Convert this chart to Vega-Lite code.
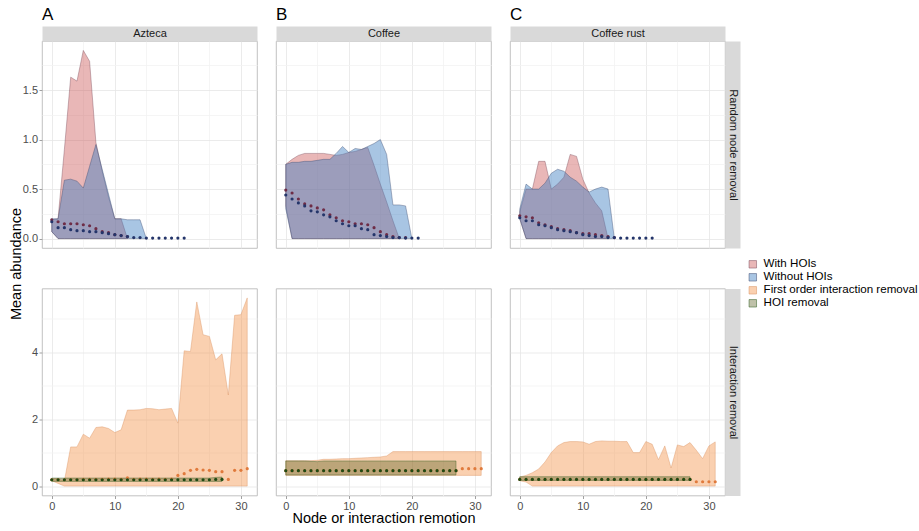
{
"$schema": "https://vega.github.io/schema/vega-lite/v6.json",
"background": "#ffffff",
"padding": {"left": 7, "top": 5, "right": 0, "bottom": 0},
"config": {"font": "Liberation Sans", "view": {"stroke": "#b3b3b3", "strokeWidth": 0.8}},
"datasets": {
"az1": [
{"s":"With HOIs","x":0,"m":0.19,"lo":0.07,"hi":0.19},
{"s":"With HOIs","x":1,"m":0.17,"lo":0,"hi":0.2},
{"s":"With HOIs","x":2,"m":0.15,"lo":0,"hi":0.9},
{"s":"With HOIs","x":3,"m":0.15,"lo":0,"hi":1.63},
{"s":"With HOIs","x":4,"m":0.15,"lo":0,"hi":1.59},
{"s":"With HOIs","x":5,"m":0.14,"lo":0,"hi":1.9},
{"s":"With HOIs","x":6,"m":0.13,"lo":0,"hi":1.79},
{"s":"With HOIs","x":7,"m":0.1,"lo":0,"hi":0.97},
{"s":"With HOIs","x":8,"m":0.07,"lo":0,"hi":0.68},
{"s":"With HOIs","x":9,"m":0.06,"lo":0,"hi":0.42},
{"s":"With HOIs","x":10,"m":0.04,"lo":0,"hi":0.2},
{"s":"With HOIs","x":11,"m":0.03,"lo":0,"hi":0.2},
{"s":"With HOIs","x":12,"m":0.02,"lo":0,"hi":0},
{"s":"Without HOIs","x":0,"m":0.17,"lo":0.07,"hi":0.2},
{"s":"Without HOIs","x":1,"m":0.11,"lo":0,"hi":0.2},
{"s":"Without HOIs","x":2,"m":0.11,"lo":0,"hi":0.59},
{"s":"Without HOIs","x":3,"m":0.09,"lo":0,"hi":0.6},
{"s":"Without HOIs","x":4,"m":0.08,"lo":0,"hi":0.58},
{"s":"Without HOIs","x":5,"m":0.08,"lo":0,"hi":0.51},
{"s":"Without HOIs","x":6,"m":0.07,"lo":0,"hi":0.73},
{"s":"Without HOIs","x":7,"m":0.07,"lo":0,"hi":0.95},
{"s":"Without HOIs","x":8,"m":0.06,"lo":0,"hi":0.7},
{"s":"Without HOIs","x":9,"m":0.05,"lo":0,"hi":0.45},
{"s":"Without HOIs","x":10,"m":0.04,"lo":0,"hi":0.2},
{"s":"Without HOIs","x":11,"m":0.03,"lo":0,"hi":0.2},
{"s":"Without HOIs","x":12,"m":0.02,"lo":0,"hi":0.19},
{"s":"Without HOIs","x":13,"m":0.01,"lo":0,"hi":0.19},
{"s":"Without HOIs","x":14,"m":0.01,"lo":0,"hi":0.19},
{"s":"Without HOIs","x":15,"m":0.005,"lo":0,"hi":0},
{"s":"Without HOIs","x":16,"m":0.005},
{"s":"Without HOIs","x":17,"m":0.005},
{"s":"Without HOIs","x":18,"m":0.005},
{"s":"Without HOIs","x":19,"m":0.005},
{"s":"Without HOIs","x":20,"m":0.005},
{"s":"Without HOIs","x":21,"m":0.005}
],
"co1": [
{"s":"With HOIs","x":0,"m":0.49,"lo":0.33,"hi":0.75},
{"s":"With HOIs","x":1,"m":0.46,"lo":0,"hi":0.8},
{"s":"With HOIs","x":2,"m":0.4,"lo":0,"hi":0.84},
{"s":"With HOIs","x":3,"m":0.35,"lo":0,"hi":0.86},
{"s":"With HOIs","x":4,"m":0.33,"lo":0,"hi":0.86},
{"s":"With HOIs","x":5,"m":0.31,"lo":0,"hi":0.86},
{"s":"With HOIs","x":6,"m":0.29,"lo":0,"hi":0.86},
{"s":"With HOIs","x":7,"m":0.24,"lo":0,"hi":0.85},
{"s":"With HOIs","x":8,"m":0.21,"lo":0,"hi":0.84},
{"s":"With HOIs","x":9,"m":0.18,"lo":0,"hi":0.85},
{"s":"With HOIs","x":10,"m":0.17,"lo":0,"hi":0.87},
{"s":"With HOIs","x":11,"m":0.15,"lo":0,"hi":0.88},
{"s":"With HOIs","x":12,"m":0.15,"lo":0,"hi":0.9},
{"s":"With HOIs","x":13,"m":0.14,"lo":0,"hi":0.92},
{"s":"With HOIs","x":14,"m":0.11,"lo":0,"hi":0.74},
{"s":"With HOIs","x":15,"m":0.07,"lo":0,"hi":0.55},
{"s":"With HOIs","x":16,"m":0.04,"lo":0,"hi":0.37},
{"s":"With HOIs","x":17,"m":0.02,"lo":0,"hi":0.18},
{"s":"With HOIs","x":18,"m":0.01,"lo":0,"hi":0},
{"s":"With HOIs","x":19,"m":0.01},
{"s":"Without HOIs","x":0,"m":0.44,"lo":0.3,"hi":0.75},
{"s":"Without HOIs","x":1,"m":0.4,"lo":0,"hi":0.77},
{"s":"Without HOIs","x":2,"m":0.36,"lo":0,"hi":0.77},
{"s":"Without HOIs","x":3,"m":0.33,"lo":0,"hi":0.78},
{"s":"Without HOIs","x":4,"m":0.28,"lo":0,"hi":0.78},
{"s":"Without HOIs","x":5,"m":0.27,"lo":0,"hi":0.79},
{"s":"Without HOIs","x":6,"m":0.24,"lo":0,"hi":0.8},
{"s":"Without HOIs","x":7,"m":0.22,"lo":0,"hi":0.8},
{"s":"Without HOIs","x":8,"m":0.18,"lo":0,"hi":0.86},
{"s":"Without HOIs","x":9,"m":0.15,"lo":0,"hi":0.93},
{"s":"Without HOIs","x":10,"m":0.13,"lo":0,"hi":0.87},
{"s":"Without HOIs","x":11,"m":0.13,"lo":0,"hi":0.91},
{"s":"Without HOIs","x":12,"m":0.1,"lo":0,"hi":0.9},
{"s":"Without HOIs","x":13,"m":0.09,"lo":0,"hi":0.93},
{"s":"Without HOIs","x":14,"m":0.04,"lo":0,"hi":0.96},
{"s":"Without HOIs","x":15,"m":0.03,"lo":0,"hi":1.0},
{"s":"Without HOIs","x":16,"m":0.02,"lo":0,"hi":0.85},
{"s":"Without HOIs","x":17,"m":0.01,"lo":0,"hi":0.34},
{"s":"Without HOIs","x":18,"m":0.01,"lo":0,"hi":0.34},
{"s":"Without HOIs","x":19,"m":0.005,"lo":0,"hi":0.33},
{"s":"Without HOIs","x":20,"m":0.005,"lo":0,"hi":0},
{"s":"Without HOIs","x":21,"m":0.005}
],
"cr1": [
{"s":"With HOIs","x":0,"m":0.23,"lo":0.2,"hi":0.27},
{"s":"With HOIs","x":1,"m":0.22,"lo":0,"hi":0.5},
{"s":"With HOIs","x":2,"m":0.21,"lo":0,"hi":0.5},
{"s":"With HOIs","x":3,"m":0.16,"lo":0,"hi":0.78},
{"s":"With HOIs","x":4,"m":0.14,"lo":0,"hi":0.78},
{"s":"With HOIs","x":5,"m":0.12,"lo":0,"hi":0.5},
{"s":"With HOIs","x":6,"m":0.1,"lo":0,"hi":0.55},
{"s":"With HOIs","x":7,"m":0.09,"lo":0,"hi":0.62},
{"s":"With HOIs","x":8,"m":0.08,"lo":0,"hi":0.85},
{"s":"With HOIs","x":9,"m":0.06,"lo":0,"hi":0.83},
{"s":"With HOIs","x":10,"m":0.05,"lo":0,"hi":0.6},
{"s":"With HOIs","x":11,"m":0.05,"lo":0,"hi":0.46},
{"s":"With HOIs","x":12,"m":0.04,"lo":0,"hi":0.36},
{"s":"With HOIs","x":13,"m":0.03,"lo":0,"hi":0.28},
{"s":"With HOIs","x":14,"m":0.02,"lo":0,"hi":0},
{"s":"With HOIs","x":15,"m":0.01},
{"s":"Without HOIs","x":0,"m":0.21,"lo":0.2,"hi":0.3},
{"s":"Without HOIs","x":1,"m":0.18,"lo":0,"hi":0.55},
{"s":"Without HOIs","x":2,"m":0.18,"lo":0,"hi":0.5},
{"s":"Without HOIs","x":3,"m":0.14,"lo":0,"hi":0.5},
{"s":"Without HOIs","x":4,"m":0.13,"lo":0,"hi":0.56},
{"s":"Without HOIs","x":5,"m":0.11,"lo":0,"hi":0.66},
{"s":"Without HOIs","x":6,"m":0.09,"lo":0,"hi":0.7},
{"s":"Without HOIs","x":7,"m":0.08,"lo":0,"hi":0.68},
{"s":"Without HOIs","x":8,"m":0.07,"lo":0,"hi":0.62},
{"s":"Without HOIs","x":9,"m":0.06,"lo":0,"hi":0.58},
{"s":"Without HOIs","x":10,"m":0.04,"lo":0,"hi":0.52},
{"s":"Without HOIs","x":11,"m":0.03,"lo":0,"hi":0.47},
{"s":"Without HOIs","x":12,"m":0.02,"lo":0,"hi":0.5},
{"s":"Without HOIs","x":13,"m":0.02,"lo":0,"hi":0.52},
{"s":"Without HOIs","x":14,"m":0.01,"lo":0,"hi":0.5},
{"s":"Without HOIs","x":15,"m":0.01,"lo":0,"hi":0},
{"s":"Without HOIs","x":16,"m":0.005},
{"s":"Without HOIs","x":17,"m":0.005},
{"s":"Without HOIs","x":18,"m":0.005},
{"s":"Without HOIs","x":19,"m":0.005},
{"s":"Without HOIs","x":20,"m":0.005},
{"s":"Without HOIs","x":21,"m":0.005}
],
"az2": [
{"s":"First order interaction removal","x":0,"m":0.19,"lo":0.16,"hi":0.22},
{"s":"First order interaction removal","x":1,"m":0.19,"lo":0.08,"hi":0.22},
{"s":"First order interaction removal","x":2,"m":0.19,"lo":0,"hi":0.15},
{"s":"First order interaction removal","x":3,"m":0.19,"lo":0,"hi":1.17},
{"s":"First order interaction removal","x":4,"m":0.19,"lo":0,"hi":1.17},
{"s":"First order interaction removal","x":5,"m":0.2,"lo":0,"hi":1.55},
{"s":"First order interaction removal","x":6,"m":0.2,"lo":0,"hi":1.43},
{"s":"First order interaction removal","x":7,"m":0.2,"lo":0,"hi":1.75},
{"s":"First order interaction removal","x":8,"m":0.2,"lo":0,"hi":1.77},
{"s":"First order interaction removal","x":9,"m":0.21,"lo":0,"hi":1.72},
{"s":"First order interaction removal","x":10,"m":0.21,"lo":0,"hi":1.6},
{"s":"First order interaction removal","x":11,"m":0.2,"lo":0,"hi":1.68},
{"s":"First order interaction removal","x":12,"m":0.25,"lo":0,"hi":2.27},
{"s":"First order interaction removal","x":13,"m":0.2,"lo":0,"hi":2.27},
{"s":"First order interaction removal","x":14,"m":0.21,"lo":0,"hi":2.28},
{"s":"First order interaction removal","x":15,"m":0.21,"lo":0,"hi":2.32},
{"s":"First order interaction removal","x":16,"m":0.2,"lo":0,"hi":2.31},
{"s":"First order interaction removal","x":17,"m":0.21,"lo":0,"hi":2.28},
{"s":"First order interaction removal","x":18,"m":0.2,"lo":0,"hi":2.3},
{"s":"First order interaction removal","x":19,"m":0.21,"lo":0,"hi":2.32},
{"s":"First order interaction removal","x":20,"m":0.32,"lo":0,"hi":1.88},
{"s":"First order interaction removal","x":21,"m":0.37,"lo":0,"hi":4.04},
{"s":"First order interaction removal","x":22,"m":0.47,"lo":0,"hi":4.02},
{"s":"First order interaction removal","x":23,"m":0.5,"lo":0,"hi":5.5},
{"s":"First order interaction removal","x":24,"m":0.48,"lo":0,"hi":4.52},
{"s":"First order interaction removal","x":25,"m":0.47,"lo":0,"hi":4.47},
{"s":"First order interaction removal","x":26,"m":0.43,"lo":0,"hi":3.77},
{"s":"First order interaction removal","x":27,"m":0.43,"lo":0,"hi":3.95},
{"s":"First order interaction removal","x":28,"m":0.2,"lo":0,"hi":2.72},
{"s":"First order interaction removal","x":29,"m":0.47,"lo":0,"hi":5.1},
{"s":"First order interaction removal","x":30,"m":0.47,"lo":0,"hi":5.12},
{"s":"First order interaction removal","x":31,"m":0.52,"lo":0,"hi":5.62},
{"s":"HOI removal","x":0,"m":0.19,"lo":0.14,"hi":0.24},
{"s":"HOI removal","x":1,"m":0.19,"lo":0.14,"hi":0.24},
{"s":"HOI removal","x":2,"m":0.19,"lo":0.14,"hi":0.24},
{"s":"HOI removal","x":3,"m":0.19,"lo":0.14,"hi":0.24},
{"s":"HOI removal","x":4,"m":0.19,"lo":0.14,"hi":0.24},
{"s":"HOI removal","x":5,"m":0.19,"lo":0.14,"hi":0.24},
{"s":"HOI removal","x":6,"m":0.19,"lo":0.14,"hi":0.24},
{"s":"HOI removal","x":7,"m":0.19,"lo":0.14,"hi":0.24},
{"s":"HOI removal","x":8,"m":0.19,"lo":0.14,"hi":0.24},
{"s":"HOI removal","x":9,"m":0.19,"lo":0.14,"hi":0.24},
{"s":"HOI removal","x":10,"m":0.19,"lo":0.14,"hi":0.24},
{"s":"HOI removal","x":11,"m":0.19,"lo":0.14,"hi":0.24},
{"s":"HOI removal","x":12,"m":0.19,"lo":0.14,"hi":0.24},
{"s":"HOI removal","x":13,"m":0.19,"lo":0.14,"hi":0.24},
{"s":"HOI removal","x":14,"m":0.19,"lo":0.14,"hi":0.24},
{"s":"HOI removal","x":15,"m":0.19,"lo":0.14,"hi":0.24},
{"s":"HOI removal","x":16,"m":0.19,"lo":0.14,"hi":0.24},
{"s":"HOI removal","x":17,"m":0.19,"lo":0.14,"hi":0.24},
{"s":"HOI removal","x":18,"m":0.19,"lo":0.14,"hi":0.24},
{"s":"HOI removal","x":19,"m":0.19,"lo":0.14,"hi":0.24},
{"s":"HOI removal","x":20,"m":0.19,"lo":0.14,"hi":0.24},
{"s":"HOI removal","x":21,"m":0.19,"lo":0.14,"hi":0.24},
{"s":"HOI removal","x":22,"m":0.19,"lo":0.14,"hi":0.24},
{"s":"HOI removal","x":23,"m":0.19,"lo":0.14,"hi":0.24},
{"s":"HOI removal","x":24,"m":0.19,"lo":0.14,"hi":0.24},
{"s":"HOI removal","x":25,"m":0.19,"lo":0.14,"hi":0.24},
{"s":"HOI removal","x":26,"m":0.2,"lo":0.14,"hi":0.26},
{"s":"HOI removal","x":27,"m":0.2,"lo":0.14,"hi":0.27}
],
"co2": [
{"s":"First order interaction removal","x":0,"m":0.46,"lo":0.32,"hi":0.76},
{"s":"First order interaction removal","x":1,"m":0.46,"lo":0.32,"hi":0.76},
{"s":"First order interaction removal","x":2,"m":0.46,"lo":0.32,"hi":0.76},
{"s":"First order interaction removal","x":3,"m":0.46,"lo":0.32,"hi":0.76},
{"s":"First order interaction removal","x":4,"m":0.46,"lo":0.32,"hi":0.76},
{"s":"First order interaction removal","x":5,"m":0.46,"lo":0.32,"hi":0.77},
{"s":"First order interaction removal","x":6,"m":0.46,"lo":0.32,"hi":0.8},
{"s":"First order interaction removal","x":7,"m":0.46,"lo":0.32,"hi":0.8},
{"s":"First order interaction removal","x":8,"m":0.46,"lo":0.32,"hi":0.81},
{"s":"First order interaction removal","x":9,"m":0.46,"lo":0.32,"hi":0.82},
{"s":"First order interaction removal","x":10,"m":0.46,"lo":0.32,"hi":0.82},
{"s":"First order interaction removal","x":11,"m":0.46,"lo":0.32,"hi":0.83},
{"s":"First order interaction removal","x":12,"m":0.46,"lo":0.32,"hi":0.84},
{"s":"First order interaction removal","x":13,"m":0.46,"lo":0.32,"hi":0.85},
{"s":"First order interaction removal","x":14,"m":0.46,"lo":0.32,"hi":0.86},
{"s":"First order interaction removal","x":15,"m":0.46,"lo":0.32,"hi":0.87},
{"s":"First order interaction removal","x":16,"m":0.46,"lo":0.32,"hi":0.9},
{"s":"First order interaction removal","x":17,"m":0.46,"lo":0.32,"hi":1.03},
{"s":"First order interaction removal","x":18,"m":0.46,"lo":0.32,"hi":1.03},
{"s":"First order interaction removal","x":19,"m":0.46,"lo":0.32,"hi":1.03},
{"s":"First order interaction removal","x":20,"m":0.46,"lo":0.32,"hi":1.03},
{"s":"First order interaction removal","x":21,"m":0.46,"lo":0.32,"hi":1.03},
{"s":"First order interaction removal","x":22,"m":0.46,"lo":0.32,"hi":1.03},
{"s":"First order interaction removal","x":23,"m":0.46,"lo":0.32,"hi":1.03},
{"s":"First order interaction removal","x":24,"m":0.46,"lo":0.32,"hi":1.03},
{"s":"First order interaction removal","x":25,"m":0.46,"lo":0.32,"hi":1.03},
{"s":"First order interaction removal","x":26,"m":0.46,"lo":0.32,"hi":1.03},
{"s":"First order interaction removal","x":27,"m":0.46,"lo":0.32,"hi":1.03},
{"s":"First order interaction removal","x":28,"m":0.52,"lo":0.32,"hi":1.03},
{"s":"First order interaction removal","x":29,"m":0.52,"lo":0.32,"hi":1.03},
{"s":"First order interaction removal","x":30,"m":0.52,"lo":0.32,"hi":1.03},
{"s":"First order interaction removal","x":31,"m":0.52,"lo":0.32,"hi":1.03},
{"s":"HOI removal","x":0,"m":0.46,"lo":0.33,"hi":0.75},
{"s":"HOI removal","x":1,"m":0.46,"lo":0.33,"hi":0.75},
{"s":"HOI removal","x":2,"m":0.46,"lo":0.33,"hi":0.75},
{"s":"HOI removal","x":3,"m":0.46,"lo":0.33,"hi":0.75},
{"s":"HOI removal","x":4,"m":0.46,"lo":0.33,"hi":0.74},
{"s":"HOI removal","x":5,"m":0.46,"lo":0.33,"hi":0.73},
{"s":"HOI removal","x":6,"m":0.46,"lo":0.33,"hi":0.75},
{"s":"HOI removal","x":7,"m":0.46,"lo":0.33,"hi":0.75},
{"s":"HOI removal","x":8,"m":0.46,"lo":0.33,"hi":0.75},
{"s":"HOI removal","x":9,"m":0.46,"lo":0.33,"hi":0.75},
{"s":"HOI removal","x":10,"m":0.46,"lo":0.33,"hi":0.75},
{"s":"HOI removal","x":11,"m":0.46,"lo":0.33,"hi":0.75},
{"s":"HOI removal","x":12,"m":0.46,"lo":0.33,"hi":0.75},
{"s":"HOI removal","x":13,"m":0.46,"lo":0.33,"hi":0.75},
{"s":"HOI removal","x":14,"m":0.46,"lo":0.33,"hi":0.75},
{"s":"HOI removal","x":15,"m":0.46,"lo":0.33,"hi":0.75},
{"s":"HOI removal","x":16,"m":0.46,"lo":0.33,"hi":0.75},
{"s":"HOI removal","x":17,"m":0.46,"lo":0.33,"hi":0.75},
{"s":"HOI removal","x":18,"m":0.46,"lo":0.33,"hi":0.75},
{"s":"HOI removal","x":19,"m":0.46,"lo":0.33,"hi":0.75},
{"s":"HOI removal","x":20,"m":0.46,"lo":0.33,"hi":0.75},
{"s":"HOI removal","x":21,"m":0.46,"lo":0.33,"hi":0.75},
{"s":"HOI removal","x":22,"m":0.46,"lo":0.33,"hi":0.75},
{"s":"HOI removal","x":23,"m":0.46,"lo":0.33,"hi":0.75},
{"s":"HOI removal","x":24,"m":0.46,"lo":0.33,"hi":0.75},
{"s":"HOI removal","x":25,"m":0.46,"lo":0.33,"hi":0.75},
{"s":"HOI removal","x":26,"m":0.46,"lo":0.33,"hi":0.75},
{"s":"HOI removal","x":27,"m":0.46,"lo":0.33,"hi":0.75}
],
"cr2": [
{"s":"First order interaction removal","x":0,"m":0.2,"lo":0.16,"hi":0.27},
{"s":"First order interaction removal","x":1,"m":0.2,"lo":0.12,"hi":0.32},
{"s":"First order interaction removal","x":2,"m":0.2,"lo":0,"hi":0.4},
{"s":"First order interaction removal","x":3,"m":0.2,"lo":0,"hi":0.51},
{"s":"First order interaction removal","x":4,"m":0.2,"lo":0,"hi":0.72},
{"s":"First order interaction removal","x":5,"m":0.2,"lo":0,"hi":1.0},
{"s":"First order interaction removal","x":6,"m":0.2,"lo":0,"hi":1.2},
{"s":"First order interaction removal","x":7,"m":0.2,"lo":0,"hi":1.3},
{"s":"First order interaction removal","x":8,"m":0.2,"lo":0,"hi":1.33},
{"s":"First order interaction removal","x":9,"m":0.2,"lo":0,"hi":1.33},
{"s":"First order interaction removal","x":10,"m":0.2,"lo":0,"hi":1.32},
{"s":"First order interaction removal","x":11,"m":0.2,"lo":0,"hi":1.25},
{"s":"First order interaction removal","x":12,"m":0.2,"lo":0,"hi":1.33},
{"s":"First order interaction removal","x":13,"m":0.2,"lo":0,"hi":1.35},
{"s":"First order interaction removal","x":14,"m":0.2,"lo":0,"hi":1.34},
{"s":"First order interaction removal","x":15,"m":0.2,"lo":0,"hi":1.34},
{"s":"First order interaction removal","x":16,"m":0.2,"lo":0,"hi":1.33},
{"s":"First order interaction removal","x":17,"m":0.2,"lo":0,"hi":1.33},
{"s":"First order interaction removal","x":18,"m":0.2,"lo":0,"hi":1.0},
{"s":"First order interaction removal","x":19,"m":0.2,"lo":0,"hi":1.0},
{"s":"First order interaction removal","x":20,"m":0.2,"lo":0,"hi":1.33},
{"s":"First order interaction removal","x":21,"m":0.2,"lo":0,"hi":1.25},
{"s":"First order interaction removal","x":22,"m":0.2,"lo":0,"hi":0.79},
{"s":"First order interaction removal","x":23,"m":0.2,"lo":0,"hi":1.2},
{"s":"First order interaction removal","x":24,"m":0.2,"lo":0,"hi":0.54},
{"s":"First order interaction removal","x":25,"m":0.2,"lo":0,"hi":1.23},
{"s":"First order interaction removal","x":26,"m":0.2,"lo":0,"hi":1.18},
{"s":"First order interaction removal","x":27,"m":0.2,"lo":0,"hi":1.3},
{"s":"First order interaction removal","x":28,"m":0.13,"lo":0,"hi":1.07},
{"s":"First order interaction removal","x":29,"m":0.13,"lo":0,"hi":0.82},
{"s":"First order interaction removal","x":30,"m":0.13,"lo":0,"hi":1.2},
{"s":"First order interaction removal","x":31,"m":0.13,"lo":0,"hi":1.32},
{"s":"HOI removal","x":0,"m":0.2,"lo":0.17,"hi":0.28},
{"s":"HOI removal","x":1,"m":0.2,"lo":0.17,"hi":0.28},
{"s":"HOI removal","x":2,"m":0.2,"lo":0.17,"hi":0.28},
{"s":"HOI removal","x":3,"m":0.2,"lo":0.17,"hi":0.28},
{"s":"HOI removal","x":4,"m":0.2,"lo":0.17,"hi":0.28},
{"s":"HOI removal","x":5,"m":0.2,"lo":0.17,"hi":0.28},
{"s":"HOI removal","x":6,"m":0.2,"lo":0.17,"hi":0.28},
{"s":"HOI removal","x":7,"m":0.2,"lo":0.17,"hi":0.28},
{"s":"HOI removal","x":8,"m":0.2,"lo":0.17,"hi":0.28},
{"s":"HOI removal","x":9,"m":0.2,"lo":0.17,"hi":0.28},
{"s":"HOI removal","x":10,"m":0.2,"lo":0.17,"hi":0.28},
{"s":"HOI removal","x":11,"m":0.2,"lo":0.17,"hi":0.28},
{"s":"HOI removal","x":12,"m":0.2,"lo":0.17,"hi":0.28},
{"s":"HOI removal","x":13,"m":0.2,"lo":0.17,"hi":0.28},
{"s":"HOI removal","x":14,"m":0.2,"lo":0.17,"hi":0.28},
{"s":"HOI removal","x":15,"m":0.2,"lo":0.17,"hi":0.28},
{"s":"HOI removal","x":16,"m":0.2,"lo":0.17,"hi":0.28},
{"s":"HOI removal","x":17,"m":0.2,"lo":0.17,"hi":0.28},
{"s":"HOI removal","x":18,"m":0.2,"lo":0.17,"hi":0.28},
{"s":"HOI removal","x":19,"m":0.2,"lo":0.17,"hi":0.28},
{"s":"HOI removal","x":20,"m":0.2,"lo":0.17,"hi":0.28},
{"s":"HOI removal","x":21,"m":0.2,"lo":0.17,"hi":0.28},
{"s":"HOI removal","x":22,"m":0.2,"lo":0.17,"hi":0.28},
{"s":"HOI removal","x":23,"m":0.2,"lo":0.17,"hi":0.28},
{"s":"HOI removal","x":24,"m":0.2,"lo":0.17,"hi":0.28},
{"s":"HOI removal","x":25,"m":0.2,"lo":0.17,"hi":0.28},
{"s":"HOI removal","x":26,"m":0.2,"lo":0.17,"hi":0.28},
{"s":"HOI removal","x":27,"m":0.2,"lo":0.17,"hi":0.28}
]
},
"columns": 3,
"spacing": {"row": 40.5, "column": 19},
"bounds": "flush",
"concat": [
{
"width": 215, "height": 207,
"title": {"text": "A", "anchor": "start", "frame": "group", "fontSize": 17, "fontWeight": "normal", "color": "#000000", "offset": 4},
"data": {"name": "az1"},
"layer": [
{"transform": [{"filter": "isValid(datum.hi)"}],
"mark": {"type": "area", "strokeWidth": 0.5, "strokeOpacity": 0.8},
"encoding": {
"x": {"field": "x", "type": "quantitative", "scale": {"domain": [-1.55, 32.55], "nice": false, "zero": false},
"axis": {"orient": "bottom", "values": [0,5,10,15,20,25,30], "labels": false, "ticks": false, "domain": false, "grid": true, "gridColor": {"condition": {"test": "datum.value % 10 !== 0", "value": "#f3f3f3"}, "value": "#e6e6e6"}, "gridWidth": 0.8, "title": null}},
"y": {"field": "lo", "type": "quantitative", "scale": {"domain": [-0.095, 1.995], "nice": false, "zero": false},
"axis": {"orient": "left", "values": [0,0.25,0.5,0.75,1,1.25,1.5,1.75], "labelExpr": "datum.value * 4 % 2 === 0 ? format(datum.value, '.1f') : ''", "labelFontSize": 11, "labelColor": "#4d4d4d", "labelPadding": 1.5, "labelFlush": false, "ticks": true, "tickSize": 3, "tickColor": "#a0a0a0", "tickOpacity": {"condition": {"test": "datum.value * 4 % 2 !== 0", "value": 0}, "value": 1}, "domain": false, "grid": true, "gridColor": {"condition": {"test": "datum.value * 4 % 2 !== 0", "value": "#f3f3f3"}, "value": "#e6e6e6"}, "gridWidth": 0.8, "title": null}},
"y2": {"field": "hi"},
"color": {"field": "s", "type": "nominal", "scale": {"domain": ["With HOIs","Without HOIs","First order interaction removal","HOI removal"], "range": ["rgba(201,74,74,0.4)","rgba(61,127,192,0.45)","rgba(242,142,67,0.42)","rgba(95,100,40,0.4)"]},
"legend": {"title": null, "orient": "none", "legendX": 705, "legendY": 217.5, "symbolType": "square", "symbolSize": 56, "symbolStrokeColor": "#9a9a9a", "symbolStrokeWidth": 0.5, "labelFontSize": 11.6, "labelColor": "#000000", "labelLimit": 400, "rowPadding": 0, "labelOffset": 5, "labelExpr": "datum.label === 'With HOIs' || datum.label === 'Without HOIs' ? '\u00a0' + datum.label : datum.label"}},
"stroke": {"field": "s", "type": "nominal", "scale": {"domain": ["With HOIs","Without HOIs","First order interaction removal","HOI removal"], "range": ["#7a4a5a","#3d4a70","#d9905f","#2d5a1d"]}, "legend": null}
}},
{"mark": {"type": "circle", "size": 10, "opacity": 1},
"encoding": {
"x": {"field": "x", "type": "quantitative", "scale": {"domain": [-1.55, 32.55], "nice": false, "zero": false},
"axis": {"orient": "top", "domain": true, "domainColor": "#d9d9d9", "domainWidth": 15, "offset": 7.5, "labels": false, "ticks": false, "grid": false, "title": "Azteca", "titleFontSize": 11, "titleFontWeight": "normal", "titleColor": "#1a1a1a", "titleX": 107.5, "titleY": 0, "titleBaseline": "middle", "titleAlign": "center"}},
"y": {"field": "m", "type": "quantitative", "scale": {"domain": [-0.095, 1.995], "nice": false, "zero": false}, "axis": null},
"fill": {"field": "s", "type": "nominal", "scale": {"domain": ["With HOIs","Without HOIs","First order interaction removal","HOI removal"], "range": ["#6e2c46","#24356a","#e07a3c","#1f4a14"]}, "legend": null}
}}
],
"resolve": {"axis": {"x": "independent", "y": "independent"}}
},
{
"width": 215, "height": 207,
"title": {"text": "B", "anchor": "start", "frame": "group", "fontSize": 17, "fontWeight": "normal", "color": "#000000", "offset": 4},
"data": {"name": "co1"},
"layer": [
{"transform": [{"filter": "isValid(datum.hi)"}],
"mark": {"type": "area", "strokeWidth": 0.5, "strokeOpacity": 0.8},
"encoding": {
"x": {"field": "x", "type": "quantitative", "scale": {"domain": [-1.55, 32.55], "nice": false, "zero": false},
"axis": {"orient": "bottom", "values": [0,5,10,15,20,25,30], "labels": false, "ticks": false, "domain": false, "grid": true, "gridColor": {"condition": {"test": "datum.value % 10 !== 0", "value": "#f3f3f3"}, "value": "#e6e6e6"}, "gridWidth": 0.8, "title": null}},
"y": {"field": "lo", "type": "quantitative", "scale": {"domain": [-0.095, 1.995], "nice": false, "zero": false},
"axis": {"orient": "left", "values": [0,0.25,0.5,0.75,1,1.25,1.5,1.75], "labels": false, "ticks": false, "domain": false, "grid": true, "gridColor": {"condition": {"test": "datum.value * 4 % 2 !== 0", "value": "#f3f3f3"}, "value": "#e6e6e6"}, "gridWidth": 0.8, "title": null}},
"y2": {"field": "hi"},
"color": {"field": "s", "type": "nominal", "scale": {"domain": ["With HOIs","Without HOIs","First order interaction removal","HOI removal"], "range": ["rgba(201,74,74,0.4)","rgba(61,127,192,0.45)","rgba(242,142,67,0.42)","rgba(95,100,40,0.4)"]},
"legend": {"title": null, "orient": "none", "legendX": 705, "legendY": 217.5, "symbolType": "square", "symbolSize": 56, "symbolStrokeColor": "#9a9a9a", "symbolStrokeWidth": 0.5, "labelFontSize": 11.6, "labelColor": "#000000", "labelLimit": 400, "rowPadding": 0, "labelOffset": 5, "labelExpr": "datum.label === 'With HOIs' || datum.label === 'Without HOIs' ? '\u00a0' + datum.label : datum.label"}},
"stroke": {"field": "s", "type": "nominal", "scale": {"domain": ["With HOIs","Without HOIs","First order interaction removal","HOI removal"], "range": ["#7a4a5a","#3d4a70","#d9905f","#2d5a1d"]}, "legend": null}
}},
{"mark": {"type": "circle", "size": 10, "opacity": 1},
"encoding": {
"x": {"field": "x", "type": "quantitative", "scale": {"domain": [-1.55, 32.55], "nice": false, "zero": false},
"axis": {"orient": "top", "domain": true, "domainColor": "#d9d9d9", "domainWidth": 15, "offset": 7.5, "labels": false, "ticks": false, "grid": false, "title": "Coffee", "titleFontSize": 11, "titleFontWeight": "normal", "titleColor": "#1a1a1a", "titleX": 107.5, "titleY": 0, "titleBaseline": "middle", "titleAlign": "center"}},
"y": {"field": "m", "type": "quantitative", "scale": {"domain": [-0.095, 1.995], "nice": false, "zero": false}, "axis": null},
"fill": {"field": "s", "type": "nominal", "scale": {"domain": ["With HOIs","Without HOIs","First order interaction removal","HOI removal"], "range": ["#6e2c46","#24356a","#e07a3c","#1f4a14"]}, "legend": null}
}}
],
"resolve": {"axis": {"x": "independent", "y": "independent"}}
},
{
"width": 215, "height": 207,
"title": {"text": "C", "anchor": "start", "frame": "group", "fontSize": 17, "fontWeight": "normal", "color": "#000000", "offset": 4},
"data": {"name": "cr1"},
"layer": [
{"transform": [{"filter": "isValid(datum.hi)"}],
"mark": {"type": "area", "strokeWidth": 0.5, "strokeOpacity": 0.8},
"encoding": {
"x": {"field": "x", "type": "quantitative", "scale": {"domain": [-1.55, 32.55], "nice": false, "zero": false},
"axis": {"orient": "bottom", "values": [0,5,10,15,20,25,30], "labels": false, "ticks": false, "domain": false, "grid": true, "gridColor": {"condition": {"test": "datum.value % 10 !== 0", "value": "#f3f3f3"}, "value": "#e6e6e6"}, "gridWidth": 0.8, "title": null}},
"y": {"field": "lo", "type": "quantitative", "scale": {"domain": [-0.095, 1.995], "nice": false, "zero": false},
"axis": {"orient": "left", "values": [0,0.25,0.5,0.75,1,1.25,1.5,1.75], "labels": false, "ticks": false, "domain": false, "grid": true, "gridColor": {"condition": {"test": "datum.value * 4 % 2 !== 0", "value": "#f3f3f3"}, "value": "#e6e6e6"}, "gridWidth": 0.8, "title": null}},
"y2": {"field": "hi"},
"color": {"field": "s", "type": "nominal", "scale": {"domain": ["With HOIs","Without HOIs","First order interaction removal","HOI removal"], "range": ["rgba(201,74,74,0.4)","rgba(61,127,192,0.45)","rgba(242,142,67,0.42)","rgba(95,100,40,0.4)"]},
"legend": {"title": null, "orient": "none", "legendX": 705, "legendY": 217.5, "symbolType": "square", "symbolSize": 56, "symbolStrokeColor": "#9a9a9a", "symbolStrokeWidth": 0.5, "labelFontSize": 11.6, "labelColor": "#000000", "labelLimit": 400, "rowPadding": 0, "labelOffset": 5, "labelExpr": "datum.label === 'With HOIs' || datum.label === 'Without HOIs' ? '\u00a0' + datum.label : datum.label"}},
"stroke": {"field": "s", "type": "nominal", "scale": {"domain": ["With HOIs","Without HOIs","First order interaction removal","HOI removal"], "range": ["#7a4a5a","#3d4a70","#d9905f","#2d5a1d"]}, "legend": null}
}},
{"mark": {"type": "circle", "size": 10, "opacity": 1},
"encoding": {
"x": {"field": "x", "type": "quantitative", "scale": {"domain": [-1.55, 32.55], "nice": false, "zero": false},
"axis": {"orient": "top", "domain": true, "domainColor": "#d9d9d9", "domainWidth": 15, "offset": 7.5, "labels": false, "ticks": false, "grid": false, "title": "Coffee rust", "titleFontSize": 11, "titleFontWeight": "normal", "titleColor": "#1a1a1a", "titleX": 107.5, "titleY": 0, "titleBaseline": "middle", "titleAlign": "center"}},
"y": {"field": "m", "type": "quantitative", "scale": {"domain": [-0.095, 1.995], "nice": false, "zero": false},
"axis": {"orient": "right", "domain": true, "domainColor": "#d9d9d9", "domainWidth": 15, "offset": 7.5, "labels": false, "ticks": false, "grid": false, "title": "Random node removal", "titleFontSize": 11, "titleFontWeight": "normal", "titleColor": "#1a1a1a", "titleAngle": 90, "titleX": 0, "titleY": 103.5, "titleBaseline": "middle", "titleAlign": "center"}},
"fill": {"field": "s", "type": "nominal", "scale": {"domain": ["With HOIs","Without HOIs","First order interaction removal","HOI removal"], "range": ["#6e2c46","#24356a","#e07a3c","#1f4a14"]}, "legend": null}
}}
],
"resolve": {"axis": {"x": "independent", "y": "independent"}}
},
{
"width": 215, "height": 207,
"data": {"name": "az2"},
"layer": [
{"transform": [{"filter": "isValid(datum.hi)"}],
"mark": {"type": "area", "strokeWidth": 0.5, "strokeOpacity": 0.8},
"encoding": {
"x": {"field": "x", "type": "quantitative", "scale": {"domain": [-1.55, 32.55], "nice": false, "zero": false},
"axis": {"orient": "bottom", "values": [0,5,10,15,20,25,30], "labelExpr": "datum.value % 10 === 0 ? datum.label : ''", "labelFontSize": 11, "labelColor": "#4d4d4d", "labelPadding": 1.5, "labelFlush": false, "ticks": true, "tickSize": 3, "tickColor": "#a0a0a0", "tickOpacity": {"condition": {"test": "datum.value % 10 !== 0", "value": 0}, "value": 1}, "domain": false, "grid": true, "gridColor": {"condition": {"test": "datum.value % 10 !== 0", "value": "#f3f3f3"}, "value": "#e6e6e6"}, "gridWidth": 0.8, "title": null}},
"y": {"field": "lo", "type": "quantitative", "scale": {"domain": [-0.281, 5.901], "nice": false, "zero": false},
"axis": {"orient": "left", "values": [0,1,2,3,4,5], "labelExpr": "datum.value % 2 === 0 ? datum.label : ''", "labelFontSize": 11, "labelColor": "#4d4d4d", "labelPadding": 1.5, "labelFlush": false, "ticks": true, "tickSize": 3, "tickColor": "#a0a0a0", "tickOpacity": {"condition": {"test": "datum.value % 2 !== 0", "value": 0}, "value": 1}, "domain": false, "grid": true, "gridColor": {"condition": {"test": "datum.value % 2 !== 0", "value": "#f3f3f3"}, "value": "#e6e6e6"}, "gridWidth": 0.8, "title": "Mean abundance", "titleFontSize": 14.5, "titleFontWeight": "normal", "titleColor": "#000000", "titleAngle": -90, "titleX": -22, "titleY": -25, "titleBaseline": "alphabetic", "titleAlign": "center"}},
"y2": {"field": "hi"},
"color": {"field": "s", "type": "nominal", "scale": {"domain": ["With HOIs","Without HOIs","First order interaction removal","HOI removal"], "range": ["rgba(201,74,74,0.4)","rgba(61,127,192,0.45)","rgba(242,142,67,0.42)","rgba(95,100,40,0.4)"]},
"legend": {"title": null, "orient": "none", "legendX": 705, "legendY": 217.5, "symbolType": "square", "symbolSize": 56, "symbolStrokeColor": "#9a9a9a", "symbolStrokeWidth": 0.5, "labelFontSize": 11.6, "labelColor": "#000000", "labelLimit": 400, "rowPadding": 0, "labelOffset": 5, "labelExpr": "datum.label === 'With HOIs' || datum.label === 'Without HOIs' ? '\u00a0' + datum.label : datum.label"}},
"stroke": {"field": "s", "type": "nominal", "scale": {"domain": ["With HOIs","Without HOIs","First order interaction removal","HOI removal"], "range": ["#7a4a5a","#3d4a70","#d9905f","#2d5a1d"]}, "legend": null}
}},
{"mark": {"type": "circle", "size": 10, "opacity": 1},
"encoding": {
"x": {"field": "x", "type": "quantitative", "scale": {"domain": [-1.55, 32.55], "nice": false, "zero": false}, "axis": null},
"y": {"field": "m", "type": "quantitative", "scale": {"domain": [-0.281, 5.901], "nice": false, "zero": false}, "axis": null},
"fill": {"field": "s", "type": "nominal", "scale": {"domain": ["With HOIs","Without HOIs","First order interaction removal","HOI removal"], "range": ["#6e2c46","#24356a","#e07a3c","#1f4a14"]}, "legend": null}
}}
],
"resolve": {"axis": {"x": "independent", "y": "independent"}}
},
{
"width": 215, "height": 207,
"data": {"name": "co2"},
"layer": [
{"transform": [{"filter": "isValid(datum.hi)"}],
"mark": {"type": "area", "strokeWidth": 0.5, "strokeOpacity": 0.8},
"encoding": {
"x": {"field": "x", "type": "quantitative", "scale": {"domain": [-1.55, 32.55], "nice": false, "zero": false},
"axis": {"orient": "bottom", "values": [0,5,10,15,20,25,30], "labelExpr": "datum.value % 10 === 0 ? datum.label : ''", "labelFontSize": 11, "labelColor": "#4d4d4d", "labelPadding": 1.5, "labelFlush": false, "ticks": true, "tickSize": 3, "tickColor": "#a0a0a0", "tickOpacity": {"condition": {"test": "datum.value % 10 !== 0", "value": 0}, "value": 1}, "domain": false, "grid": true, "gridColor": {"condition": {"test": "datum.value % 10 !== 0", "value": "#f3f3f3"}, "value": "#e6e6e6"}, "gridWidth": 0.8, "title": "Node or interaction remotion", "titleFontSize": 14.5, "titleFontWeight": "normal", "titleColor": "#000000", "titleX": 107.5, "titleY": 27, "titleBaseline": "alphabetic", "titleAlign": "center"}},
"y": {"field": "lo", "type": "quantitative", "scale": {"domain": [-0.281, 5.901], "nice": false, "zero": false},
"axis": {"orient": "left", "values": [0,1,2,3,4,5], "labels": false, "ticks": false, "domain": false, "grid": true, "gridColor": {"condition": {"test": "datum.value % 2 !== 0", "value": "#f3f3f3"}, "value": "#e6e6e6"}, "gridWidth": 0.8, "title": null}},
"y2": {"field": "hi"},
"color": {"field": "s", "type": "nominal", "scale": {"domain": ["With HOIs","Without HOIs","First order interaction removal","HOI removal"], "range": ["rgba(201,74,74,0.4)","rgba(61,127,192,0.45)","rgba(242,142,67,0.42)","rgba(95,100,40,0.4)"]},
"legend": {"title": null, "orient": "none", "legendX": 705, "legendY": 217.5, "symbolType": "square", "symbolSize": 56, "symbolStrokeColor": "#9a9a9a", "symbolStrokeWidth": 0.5, "labelFontSize": 11.6, "labelColor": "#000000", "labelLimit": 400, "rowPadding": 0, "labelOffset": 5, "labelExpr": "datum.label === 'With HOIs' || datum.label === 'Without HOIs' ? '\u00a0' + datum.label : datum.label"}},
"stroke": {"field": "s", "type": "nominal", "scale": {"domain": ["With HOIs","Without HOIs","First order interaction removal","HOI removal"], "range": ["#7a4a5a","#3d4a70","#d9905f","#2d5a1d"]}, "legend": null}
}},
{"mark": {"type": "circle", "size": 10, "opacity": 1},
"encoding": {
"x": {"field": "x", "type": "quantitative", "scale": {"domain": [-1.55, 32.55], "nice": false, "zero": false}, "axis": null},
"y": {"field": "m", "type": "quantitative", "scale": {"domain": [-0.281, 5.901], "nice": false, "zero": false}, "axis": null},
"fill": {"field": "s", "type": "nominal", "scale": {"domain": ["With HOIs","Without HOIs","First order interaction removal","HOI removal"], "range": ["#6e2c46","#24356a","#e07a3c","#1f4a14"]}, "legend": null}
}}
],
"resolve": {"axis": {"x": "independent", "y": "independent"}}
},
{
"width": 215, "height": 207,
"data": {"name": "cr2"},
"layer": [
{"transform": [{"filter": "isValid(datum.hi)"}],
"mark": {"type": "area", "strokeWidth": 0.5, "strokeOpacity": 0.8},
"encoding": {
"x": {"field": "x", "type": "quantitative", "scale": {"domain": [-1.55, 32.55], "nice": false, "zero": false},
"axis": {"orient": "bottom", "values": [0,5,10,15,20,25,30], "labelExpr": "datum.value % 10 === 0 ? datum.label : ''", "labelFontSize": 11, "labelColor": "#4d4d4d", "labelPadding": 1.5, "labelFlush": false, "ticks": true, "tickSize": 3, "tickColor": "#a0a0a0", "tickOpacity": {"condition": {"test": "datum.value % 10 !== 0", "value": 0}, "value": 1}, "domain": false, "grid": true, "gridColor": {"condition": {"test": "datum.value % 10 !== 0", "value": "#f3f3f3"}, "value": "#e6e6e6"}, "gridWidth": 0.8, "title": null}},
"y": {"field": "lo", "type": "quantitative", "scale": {"domain": [-0.281, 5.901], "nice": false, "zero": false},
"axis": {"orient": "left", "values": [0,1,2,3,4,5], "labels": false, "ticks": false, "domain": false, "grid": true, "gridColor": {"condition": {"test": "datum.value % 2 !== 0", "value": "#f3f3f3"}, "value": "#e6e6e6"}, "gridWidth": 0.8, "title": null}},
"y2": {"field": "hi"},
"color": {"field": "s", "type": "nominal", "scale": {"domain": ["With HOIs","Without HOIs","First order interaction removal","HOI removal"], "range": ["rgba(201,74,74,0.4)","rgba(61,127,192,0.45)","rgba(242,142,67,0.42)","rgba(95,100,40,0.4)"]},
"legend": {"title": null, "orient": "none", "legendX": 705, "legendY": 217.5, "symbolType": "square", "symbolSize": 56, "symbolStrokeColor": "#9a9a9a", "symbolStrokeWidth": 0.5, "labelFontSize": 11.6, "labelColor": "#000000", "labelLimit": 400, "rowPadding": 0, "labelOffset": 5, "labelExpr": "datum.label === 'With HOIs' || datum.label === 'Without HOIs' ? '\u00a0' + datum.label : datum.label"}},
"stroke": {"field": "s", "type": "nominal", "scale": {"domain": ["With HOIs","Without HOIs","First order interaction removal","HOI removal"], "range": ["#7a4a5a","#3d4a70","#d9905f","#2d5a1d"]}, "legend": null}
}},
{"mark": {"type": "circle", "size": 10, "opacity": 1},
"encoding": {
"x": {"field": "x", "type": "quantitative", "scale": {"domain": [-1.55, 32.55], "nice": false, "zero": false}, "axis": null},
"y": {"field": "m", "type": "quantitative", "scale": {"domain": [-0.281, 5.901], "nice": false, "zero": false},
"axis": {"orient": "right", "domain": true, "domainColor": "#d9d9d9", "domainWidth": 15, "offset": 7.5, "labels": false, "ticks": false, "grid": false, "title": "Interaction removal", "titleFontSize": 11, "titleFontWeight": "normal", "titleColor": "#1a1a1a", "titleAngle": 90, "titleX": 0, "titleY": 103.5, "titleBaseline": "middle", "titleAlign": "center"}},
"fill": {"field": "s", "type": "nominal", "scale": {"domain": ["With HOIs","Without HOIs","First order interaction removal","HOI removal"], "range": ["#6e2c46","#24356a","#e07a3c","#1f4a14"]}, "legend": null}
}}
],
"resolve": {"axis": {"x": "independent", "y": "independent"}}
}
]
}
